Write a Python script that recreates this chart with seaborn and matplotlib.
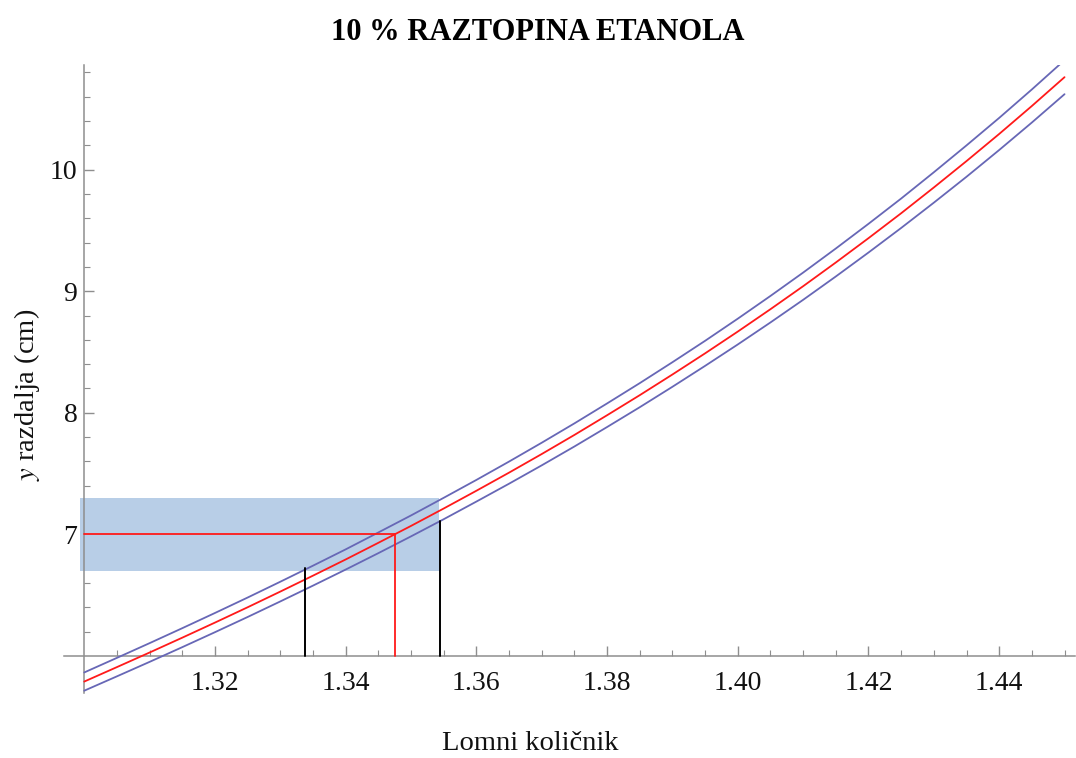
import numpy as np
import pandas as pd
import matplotlib
matplotlib.use("Agg")
import matplotlib.pyplot as plt
import seaborn as sns

# ---- data ----
n_values = [1.300, 1.305, 1.310, 1.315, 1.320, 1.325, 1.330, 1.335, 1.340, 1.345,
            1.350, 1.355, 1.360, 1.365, 1.370, 1.375, 1.380, 1.385, 1.390, 1.395,
            1.400, 1.405, 1.410, 1.415, 1.420, 1.425, 1.430, 1.435, 1.440, 1.445,
            1.450]
y_center = [5.790, 5.909, 6.029, 6.151, 6.275, 6.401, 6.530, 6.661, 6.794, 6.931,
            7.070, 7.213, 7.359, 7.508, 7.661, 7.818, 7.980, 8.145, 8.315, 8.489,
            8.668, 8.852, 9.041, 9.236, 9.436, 9.641, 9.853, 10.070, 10.293, 10.523,
            10.760]
y_upper = [5.865, 5.985, 6.106, 6.229, 6.354, 6.481, 6.611, 6.743, 6.877, 7.016,
           7.156, 7.301, 7.448, 7.599, 7.754, 7.913, 8.077, 8.244, 8.416, 8.592,
           8.774, 8.961, 9.153, 9.351, 9.554, 9.762, 9.978, 10.199, 10.425, 10.659,
           10.900]
y_lower = [5.715, 5.833, 5.952, 6.073, 6.196, 6.321, 6.449, 6.579, 6.711, 6.846,
           6.984, 7.125, 7.270, 7.417, 7.568, 7.723, 7.883, 8.046, 8.214, 8.386,
           8.562, 8.743, 8.929, 9.121, 9.318, 9.520, 9.728, 9.941, 10.161, 10.387,
           10.620]

band_x = [1.2993, 1.3543]      # shaded band horizontal extent
band_y = [6.70, 7.30]          # shaded band vertical extent
measured_y = 7.0               # measured distance
measured_n = 1.3475            # read refractive index
bound_n = [1.3338, 1.3544]     # lower / upper bounds of the index
bound_top = [6.72, 7.11]       # top ends of the black bound lines
axis_origin = (1.30, 6.0)

x_major = [1.32, 1.34, 1.36, 1.38, 1.40, 1.42, 1.44]
x_labels = ["1.32", "1.34", "1.36", "1.38", "1.40", "1.42", "1.44"]
y_major = [7, 8, 9, 10]
y_labels = ["7", "8", "9", "10"]

# ---- figure ----
sns.set_theme(style="white")
plt.rcParams['font.family'] = ['Liberation Serif', 'DejaVu Serif']
plt.rcParams['mathtext.fontset'] = 'stix'

fig = plt.figure(figsize=(10.76, 7.58), dpi=100)
ax = fig.add_axes([64/1076, 65/758, 1011/1076, 628/758])

npts = len(n_values)
df = pd.DataFrame({"n": n_values * 3,
                   "y": y_center + y_upper + y_lower,
                   "curve": ["center"] * npts + ["upper"] * npts + ["lower"] * npts})

blue = "#6767B6"
red = "#FF1A1A"
ax.fill_between(band_x, [band_y[0]] * 2, [band_y[1]] * 2,
                color="#B8CEE7", lw=0, zorder=1)

sns.lineplot(data=df[df.curve == "upper"], x="n", y="y", color=blue,
             lw=1.3, ax=ax, zorder=3, legend=False)
sns.lineplot(data=df[df.curve == "lower"], x="n", y="y", color=blue,
             lw=1.3, ax=ax, zorder=3, legend=False)
sns.lineplot(data=df[df.curve == "center"], x="n", y="y", color=red,
             lw=1.3, ax=ax, zorder=4, legend=False)

# measured value lines
ax.plot([axis_origin[0], measured_n], [measured_y, measured_y],
        color=red, lw=1.3, zorder=4)
ax.plot([measured_n, measured_n], [axis_origin[1], measured_y],
        color=red, lw=1.3, zorder=4)
for bx, bt in zip(bound_n, bound_top):
    ax.plot([bx, bx], [axis_origin[1], bt], color="black", lw=1.4, zorder=4)

ax.set_xlim(1.2969, 1.4516)
ax.set_ylim(5.696, 10.86)

# axes crossing at (1.30, 6)
for s in ["top", "right"]:
    ax.spines[s].set_visible(False)
ax.spines["left"].set_position(("data", axis_origin[0]))
ax.spines["bottom"].set_position(("data", axis_origin[1]))
axcol = "#8E8E8E"
for s in ["left", "bottom"]:
    ax.spines[s].set_color(axcol)
    ax.spines[s].set_linewidth(1.1)
    ax.spines[s].set_zorder(2)

ax.set_xticks(x_major)
ax.set_xticklabels(x_labels)
ax.set_yticks(y_major)
ax.set_yticklabels(y_labels)
ax.set_xticks(np.arange(1.305, 1.4501, 0.005), minor=True)
ax.set_yticks(np.arange(6.2, 10.81, 0.2), minor=True)
ax.tick_params(axis="both", which="both", bottom=True, left=True,
               top=False, right=False)
ax.tick_params(axis="both", which="major", direction="in", length=7, width=1,
               color=axcol, labelsize=20, labelcolor="#111111")
ax.tick_params(axis="both", which="minor", direction="in", length=4, width=0.8,
               color=axcol)
ax.tick_params(axis="x", which="major", pad=11)
ax.tick_params(axis="y", which="major", pad=5)
ax.set_xlabel("")
ax.set_ylabel("")
ax.grid(False)

fig.text(538/1076, 1 - 32/758, "10 % RAZTOPINA ETANOLA", ha="center",
         va="center", fontsize=22, fontweight="bold", color="black")
fig.text(530/1076, 1 - 744/758, "Lomni količnik", ha="center", va="center",
         fontsize=20.5, color="#111111")
fig.text(27/1076, 1 - 395/758, r"$y$ razdalja (cm)", ha="center",
         va="center", rotation=90, fontsize=20.5, color="#111111")

fig.savefig("out.png", dpi=100, facecolor="white")
